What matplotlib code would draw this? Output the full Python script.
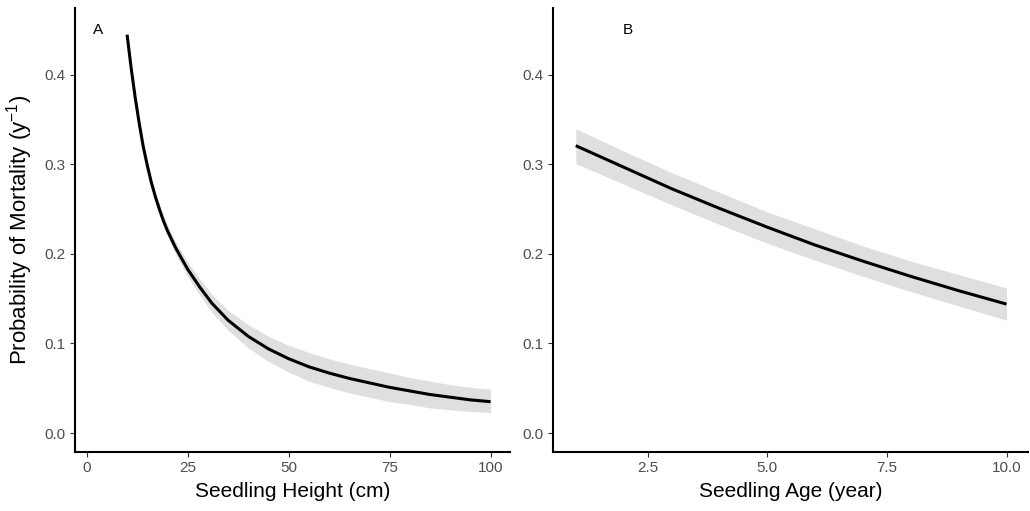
import numpy as np
import matplotlib
matplotlib.use("Agg")
import matplotlib.pyplot as plt

plt.rcParams["font.family"] = ["Liberation Sans", "DejaVu Sans"]
plt.rcParams["mathtext.fontset"] = "custom"
plt.rcParams["mathtext.rm"] = "Liberation Sans"
plt.rcParams["mathtext.it"] = "Liberation Sans:italic"

# =========================
# Panel A: mortality vs seedling height
# =========================
height_cm = [10, 11, 12, 13, 14, 15, 16, 17, 18, 19, 20, 22, 25, 28, 31,
             35, 40, 45, 50, 55, 60, 65, 70, 75, 80, 85, 90, 95, 100]
height_fit = [0.445, 0.408, 0.375, 0.346, 0.320, 0.299, 0.280, 0.264,
              0.250, 0.237, 0.226, 0.207, 0.183, 0.163, 0.145, 0.126,
              0.108, 0.094, 0.083, 0.074, 0.067, 0.061, 0.056, 0.051,
              0.047, 0.043, 0.040, 0.037, 0.035]
height_upper = [0.449, 0.412, 0.379, 0.350, 0.325, 0.304, 0.285, 0.269,
                0.256, 0.243, 0.232, 0.214, 0.191, 0.172, 0.155, 0.137,
                0.121, 0.108, 0.098, 0.090, 0.083, 0.077, 0.072, 0.067,
                0.062, 0.058, 0.054, 0.051, 0.049]
height_lower = [0.441, 0.404, 0.371, 0.342, 0.315, 0.294, 0.275, 0.259,
                0.244, 0.231, 0.220, 0.200, 0.175, 0.154, 0.135, 0.115,
                0.095, 0.080, 0.068, 0.058, 0.051, 0.045, 0.040, 0.035,
                0.032, 0.028, 0.026, 0.024, 0.023]

# =========================
# Panel B: mortality vs seedling age
# =========================
age_year = [1, 2, 3, 4, 5, 6, 7, 8, 9, 10]
age_fit = [0.321, 0.297, 0.273, 0.251, 0.230, 0.210, 0.192, 0.175, 0.159, 0.144]
age_upper = [0.340, 0.315, 0.291, 0.269, 0.247, 0.228, 0.209, 0.192, 0.177, 0.162]
age_lower = [0.301, 0.278, 0.255, 0.233, 0.212, 0.193, 0.175, 0.158, 0.142, 0.126]

y_ticks = [0.0, 0.1, 0.2, 0.3, 0.4]
x_ticks_a = [0, 25, 50, 75, 100]
x_ticks_b = [2.5, 5.0, 7.5, 10.0]

band_color = "#dfdfdf"
tick_color = "#4d4d4d"

fig = plt.figure(figsize=(10.3, 5.11), dpi=100)
ax_a = fig.add_axes([0.0728, 0.1155, 0.4223, 0.869])
ax_b = fig.add_axes([0.5369, 0.1155, 0.4612, 0.869])


def style_axis(ax):
    for side in ["top", "right"]:
        ax.spines[side].set_visible(False)
    for side in ["left", "bottom"]:
        ax.spines[side].set_linewidth(1.5)
        ax.spines[side].set_color("black")
    ax.tick_params(length=3.5, width=0.8, color="#333333",
                   labelsize=11, labelcolor=tick_color, pad=3)
    ax.set_ylim(-0.0212, 0.4749)
    ax.set_yticks(y_ticks)
    ax.set_yticklabels([f"{v:.1f}" for v in y_ticks])


# Panel A
ax_a.fill_between(height_cm, height_lower, height_upper, color=band_color, lw=0)
ax_a.plot(height_cm, height_fit, color="black", lw=2.2, solid_capstyle="butt")
style_axis(ax_a)
ax_a.set_xlim(-2.9, 104.8)
ax_a.set_xticks(x_ticks_a)
ax_a.set_xticklabels([str(v) for v in x_ticks_a])
ax_a.set_xlabel("Seedling Height (cm)", fontsize=15, labelpad=5)
ax_a.set_ylabel(r"Probability of Mortality (y$^{-1}$)", fontsize=16, labelpad=7)
ax_a.text(2.8, 0.45, "A", fontsize=11, ha="center", va="center")

# Panel B
ax_b.fill_between(age_year, age_lower, age_upper, color=band_color, lw=0)
ax_b.plot(age_year, age_fit, color="black", lw=2.2, solid_capstyle="butt")
style_axis(ax_b)
ax_b.set_xlim(0.525, 10.45)
ax_b.set_xticks(x_ticks_b)
ax_b.set_xticklabels([f"{v:.1f}" for v in x_ticks_b])
ax_b.set_xlabel("Seedling Age (year)", fontsize=15, labelpad=5)
ax_b.text(2.09, 0.45, "B", fontsize=11, ha="center", va="center")

plt.savefig("out.png", dpi=100)
